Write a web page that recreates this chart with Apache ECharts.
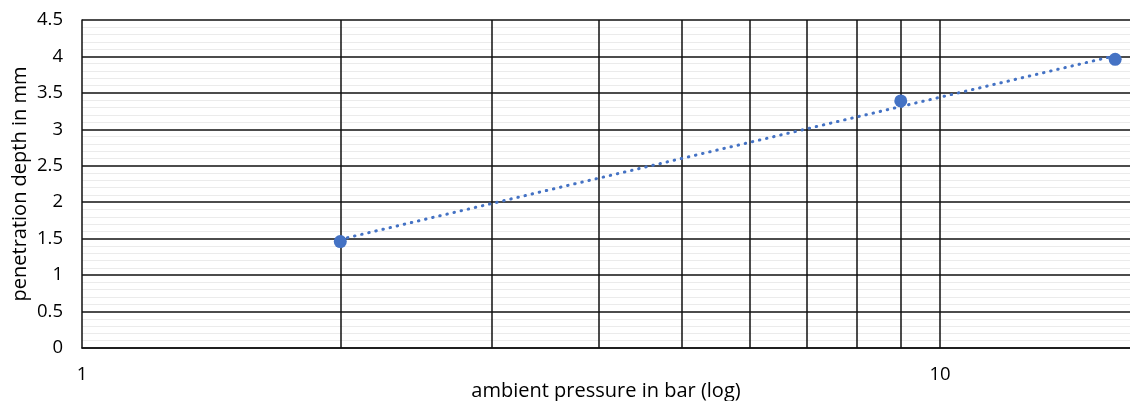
<!DOCTYPE html>
<html>
<head>
<meta charset="utf-8">
<script src="https://cdn.jsdelivr.net/npm/echarts@6/dist/echarts.min.js"></script>
<style>
html,body{margin:0;padding:0;background:#fff;}
#chart{width:1130px;height:401px;}
</style>
</head>
<body>
<div id="chart"></div>
<script>
// Data
var pressures = [2, 9, 16];
var depths = [1.46, 3.39, 3.96];
// logarithmic trendline endpoints
var trendX = [2, 16];
var trendY = [1.49, 4.01];
// vertical major grid values on the log axis
var vGridValues = [2, 3, 4, 5, 6, 7, 8, 9, 10];

var FONT = 'Open Sans';
var BLUE = '#4472C4';
var GRID = '#111111';

var chart = echarts.init(document.getElementById('chart'));
chart.setOption({
  animation: false,
  grid: {left: 82, right: 0, top: 20, bottom: 53, outerBoundsMode: 'none', containLabel: false},
  xAxis: {
    type: 'log',
    logBase: 10,
    min: 1,
    max: 16.65,
    name: 'ambient pressure in bar (log)',
    nameLocation: 'middle',
    nameGap: 33,
    nameMoveOverlap: false,
    nameTextStyle: {fontFamily: FONT, fontSize: 20, color: '#000'},
    axisLine: {show: true, lineStyle: {color: GRID, width: 1.5}},
    axisTick: {show: false},
    axisLabel: {fontFamily: FONT, fontSize: 18.5, color: '#000', margin: 17, showMaxLabel: false},
    splitLine: {show: false},
    minorTick: {show: false}
  },
  yAxis: {
    type: 'value',
    min: 0,
    max: 4.5,
    interval: 0.5,
    name: 'penetration depth in mm',
    nameLocation: 'middle',
    nameGap: 52,
    nameMoveOverlap: false,
    nameTextStyle: {fontFamily: FONT, fontSize: 20, color: '#000'},
    axisLine: {show: true, lineStyle: {color: GRID, width: 1.5}},
    axisTick: {show: false},
    axisLabel: {fontFamily: FONT, fontSize: 18.5, color: '#000', margin: 19},
    splitLine: {show: true, lineStyle: {color: GRID, width: 1.5}},
    minorTick: {show: false, splitNumber: 5},
    minorSplitLine: {show: true, lineStyle: {color: '#ebebeb', width: 1}}
  },
  series: [
    {
      type: 'line',
      data: trendX.map(function (x, i) { return [x, trendY[i]]; }),
      symbol: 'none',
      silent: true,
      z: 3,
      lineStyle: {color: BLUE, width: 3, type: [0.5, 6.8], cap: 'round', opacity: 1},
      markLine: {
        silent: true,
        symbol: 'none',
        label: {show: false},
        animation: false,
        lineStyle: {color: GRID, width: 1.5, type: 'solid'},
        data: vGridValues.map(function (v) { return {xAxis: v}; }),
        z: 1
      }
    },
    {
      type: 'scatter',
      data: pressures.map(function (x, i) { return [x, depths[i]]; }),
      symbol: 'circle',
      symbolSize: 13,
      itemStyle: {color: BLUE, opacity: 1},
      z: 4
    }
  ]
});
</script>
</body>
</html>
